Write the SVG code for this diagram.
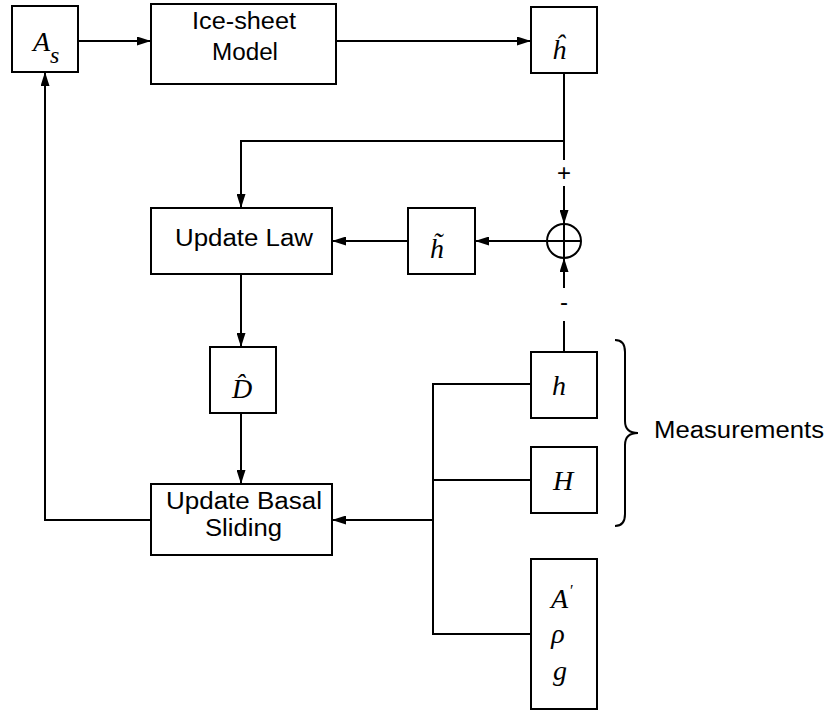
<svg xmlns="http://www.w3.org/2000/svg" width="827" height="713" viewBox="0 0 827 713">
<style>
.box{fill:#fff;stroke:#000;stroke-width:2}
.ln{fill:none;stroke:#000;stroke-width:2}
.lbl{font-family:"Liberation Sans",Arial,sans-serif;font-size:23px;fill:#000}
.m{font-family:"Liberation Serif","Times New Roman",serif;font-style:italic;font-size:28px;fill:#000}
.sg{font-family:"Liberation Sans",Arial,sans-serif;font-size:24px;fill:#000;text-anchor:middle}
</style>
<defs>
<marker id="arr" viewBox="0 0 14 9" refX="14" refY="4.5" markerWidth="14" markerHeight="9" markerUnits="userSpaceOnUse" orient="auto">
<path d="M0,0 L14,4.5 L0,9 Z" fill="#000"/>
</marker>
</defs>
<rect width="827" height="713" fill="#fff"/>
<g id="connectors">
<path class="ln" d="M78,41 H151" marker-end="url(#arr)"/>
<path class="ln" d="M336,41 H531" marker-end="url(#arr)"/>
<path class="ln" d="M564,73 V141 H241 V208" marker-end="url(#arr)"/>
<path class="ln" d="M564,141 V160"/>
<path class="ln" d="M564,186 V224" marker-end="url(#arr)"/>
<path class="ln" d="M564,352 V321"/>
<path class="ln" d="M564,288 V258" marker-end="url(#arr)"/>
<path class="ln" d="M546.5,241 H475" marker-end="url(#arr)"/>
<path class="ln" d="M408,241 H332" marker-end="url(#arr)"/>
<path class="ln" d="M241,274 V347" marker-end="url(#arr)"/>
<path class="ln" d="M241,413 V484" marker-end="url(#arr)"/>
<path class="ln" d="M151,520 H45 V72" marker-end="url(#arr)"/>
<path class="ln" d="M531,384 H433 V634 H531 M433,480 H531"/>
<path class="ln" d="M433,520 H332" marker-end="url(#arr)"/>
<text class="sg" x="564" y="181">+</text>
<text class="sg" x="564" y="310">-</text>
</g>
<g id="As">
<rect class="box" x="12" y="6" width="66" height="66"/>
<text class="m" x="33" y="51">A<tspan dy="12" style="font-size:24px">s</tspan></text>
</g>
<g id="icesheet">
<rect class="box" x="151" y="4" width="185" height="80"/>
<text class="lbl" x="192" y="29" textLength="104" lengthAdjust="spacingAndGlyphs">Ice-sheet</text>
<text class="lbl" x="212" y="60" textLength="66" lengthAdjust="spacingAndGlyphs">Model</text>
</g>
<g id="hhat">
<rect class="box" x="531" y="7" width="66" height="66"/>
<text class="m" x="559" y="59" text-anchor="middle">ĥ</text>
</g>
<g id="sum">
<circle class="ln" cx="564" cy="241" r="17"/>
<path class="ln" d="M547,241 H581 M564,224 V258"/>
</g>
<g id="htilde">
<rect class="box" x="408" y="208" width="67" height="66"/>
<text class="m" x="437" y="258" text-anchor="middle">h̃</text>
</g>
<g id="updatelaw">
<rect class="box" x="151" y="208" width="181" height="66"/>
<text class="lbl" x="175" y="246" textLength="138" lengthAdjust="spacingAndGlyphs">Update Law</text>
</g>
<g id="dhat">
<rect class="box" x="210" y="347" width="66" height="66"/>
<text class="m" x="242" y="398" text-anchor="middle">D̂</text>
</g>
<g id="basal">
<rect class="box" x="151" y="484" width="181" height="71"/>
<text class="lbl" x="166" y="509" textLength="156" lengthAdjust="spacingAndGlyphs">Update Basal</text>
<text class="lbl" x="205" y="536" textLength="77" lengthAdjust="spacingAndGlyphs">Sliding</text>
</g>
<g id="h">
<rect class="box" x="531" y="352" width="66" height="66"/>
<text class="m" x="559" y="395" text-anchor="middle">h</text>
</g>
<g id="H">
<rect class="box" x="531" y="447" width="66" height="66"/>
<text class="m" x="563" y="490" text-anchor="middle">H</text>
</g>
<g id="params">
<rect class="box" x="531" y="559" width="66" height="150"/>
<text class="m" x="551" y="608">A<tspan dx="2" dy="-12" style="font-size:16px;font-style:normal">′</tspan></text>
<text class="m" x="558" y="643" text-anchor="middle">ρ</text>
<text class="m" x="560" y="680" text-anchor="middle">g</text>
</g>
<g id="measurements">
<path class="ln" d="M615,340 Q625,340 625,352 V421 Q625,433 638,433 Q625,433 625,445 V514 Q625,526 615,526"/>
<text class="lbl" x="654" y="438" textLength="170" lengthAdjust="spacingAndGlyphs">Measurements</text>
</g>
</svg>
